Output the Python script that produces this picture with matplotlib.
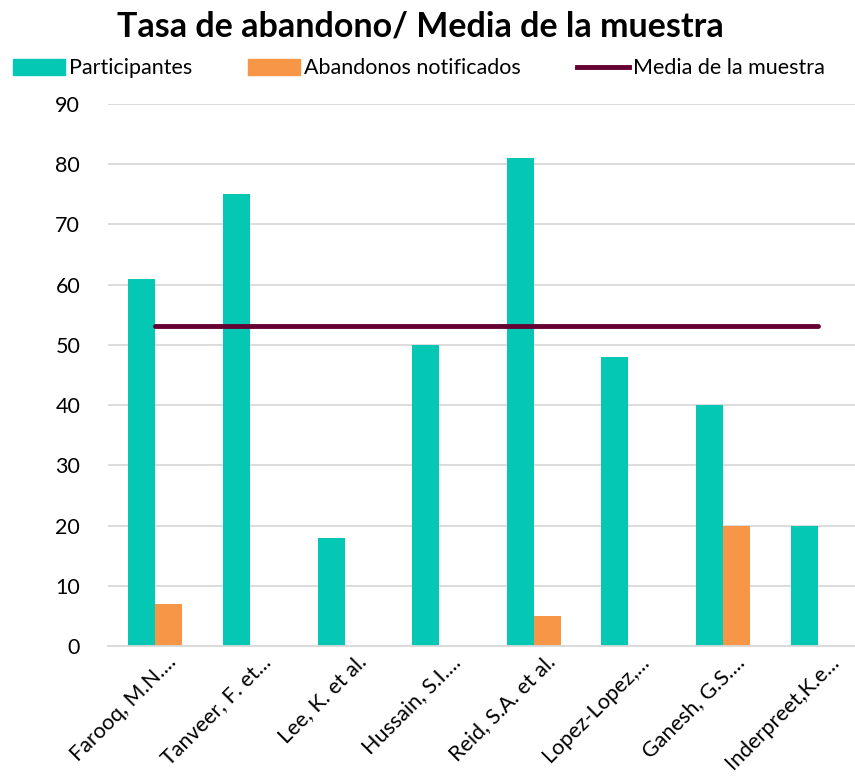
import matplotlib.pyplot as plt
import matplotlib.transforms as mtransforms
import numpy as np
from matplotlib.lines import Line2D
from matplotlib.patches import Patch

plt.rcParams['font.family'] = ['Lato', 'DejaVu Sans']

estudios = ['Farooq, M.N....', 'Tanveer, F. et...', 'Lee, K. et al.', 'Hussain, S.I....',
            'Reid, S.A. et al.', 'Lopez-Lopez,...', 'Ganesh, G.S....', 'Inderpreet,K.e...']
participantes = [61, 75, 18, 50, 81, 48, 40, 20]
abandonos = [7, 0, 0, 0, 5, 0, 20, 0]
media = 53.1

verde = '#05c8b4'
naranja = '#f79646'
granate = '#650033'

fig = plt.figure(figsize=(8.55, 7.78), dpi=100)
ax = fig.add_axes([108 / 855, 132 / 778, 757 / 855, 542 / 778])

x = np.arange(len(estudios))
w = 0.285
ax.bar(x - w / 2, participantes, w, color=verde, zorder=2)
ax.bar(x + w / 2, abandonos, w, color=naranja, zorder=2)
ax.plot([x[0], x[-1]], [media, media], color=granate, lw=3.5,
        solid_capstyle='round', zorder=3)

ax.set_xlim(-0.5, len(estudios) - 0.5)
ax.set_ylim(0, 90)
ax.set_yticks(range(0, 91, 10))
ax.yaxis.grid(True, color='#d9d9d9', lw=1.3, zorder=0)
ax.set_axisbelow(True)
for s in ['top', 'right', 'left']:
    ax.spines[s].set_visible(False)
ax.spines['bottom'].set_color('#d9d9d9')
ax.spines['bottom'].set_linewidth(1.3)
ax.tick_params(axis='both', length=0, labelsize=15.5, colors='black')
ax.tick_params(axis='y', pad=20)
ax.tick_params(axis='x', pad=4)
ax.set_xticks(x)
ax.set_xticklabels(estudios, rotation=45, ha='right', rotation_mode='anchor', fontsize=15.5)
# nudge the rotated labels a bit to the right
desplaza = mtransforms.ScaledTranslation(0.11, 0, fig.dpi_scale_trans)
for lbl in ax.get_xticklabels():
    lbl.set_transform(lbl.get_transform() + desplaza)

fig.text(0.492, 0.966, 'Tasa de abandono/ Media de la muestra', ha='center', va='center',
         fontsize=24.5, fontweight='bold')

handles = [Patch(color=verde, label='Participantes'),
           Patch(color=naranja, label='Abandonos notificados'),
           Line2D([], [], color=granate, lw=3.5, label='Media de la muestra')]
fig.legend(handles=handles, loc='center', bbox_to_anchor=(0.49, 0.912), ncol=3,
           frameon=False, fontsize=15.5, handlelength=2.4, handleheight=0.8,
           handletextpad=0.2, columnspacing=2.6)

fig.savefig('out.png', dpi=100)
